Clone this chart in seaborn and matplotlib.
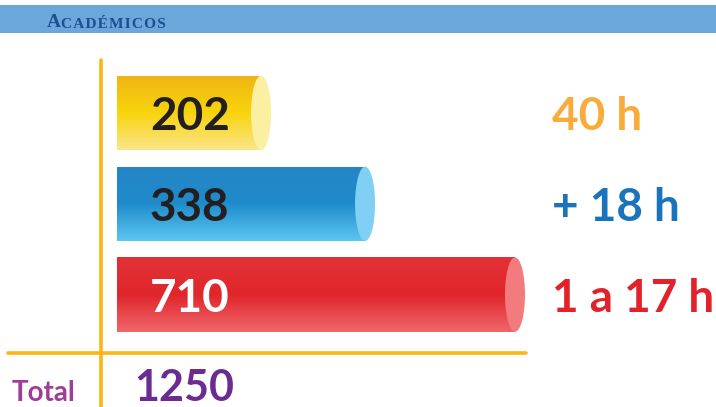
import numpy as np
import pandas as pd
import matplotlib.pyplot as plt
import seaborn as sns
from matplotlib.patches import Ellipse, Rectangle
from matplotlib.lines import Line2D
from matplotlib.colors import LinearSegmentedColormap
from matplotlib.transforms import blended_transform_factory

# datos del gráfico
categories = ["40 h", "+ 18 h", "1 a 17 h"]
values = [202, 338, 710]
total = 1250
total_label = "Total"

# colores (arriba -> abajo) del cuerpo de cada cilindro
body_colors = [
    ["#efb514", "#f8d40c", "#fbe58a"],
    ["#2686c6", "#1f8bcb", "#5dc6f1"],
    ["#e23236", "#e0262b", "#f0676b"],
]
cap_colors = ["#fbf0a2", "#80cff4", "#f27b7d"]
label_colors = ["#f9ab3b", "#1a74bc", "#e2222a"]
value_colors = ["#231f20", "#231f20", "#ffffff"]
gold = "#fbb614"
navy = "#1b4f8f"

sns.set_style("white")
plt.rcParams["font.family"] = ["Lato", "DejaVu Sans"]

W, H = 716, 407
fig = plt.figure(figsize=(W / 100, H / 100), dpi=100)
fig.patch.set_facecolor("white")

# franja de cabecera (versalitas simuladas)
fig.add_artist(Rectangle((0, 1 - 33 / H), 1, 28 / H, transform=fig.transFigure,
                         facecolor="#6ba7da", edgecolor="none"))
t1 = fig.text(47 / W, 1 - 27 / H, "A", fontsize=14, fontweight="bold",
              family=["Liberation Serif"], color=navy, va="baseline")
fig.add_artist(plt.Annotation("C A D É M I C O S".replace(" ", "\u200a"),
                              xy=(1, 0), xycoords=t1, va="bottom", ha="left",
                              fontsize=11, fontweight="bold",
                              family=["Liberation Serif", "DejaVu Serif"],
                              color=navy))

# ejes de las barras
ax = fig.add_axes([117 / W, 1 - 340 / H, 398 / W, 272.4 / H])
df = pd.DataFrame({"grupo": categories, "alumnos": values})
sns.barplot(data=df, x="alumnos", y="grupo", hue="grupo",
            palette=[c[1] for c in body_colors], orient="h", width=0.82,
            legend=False, ax=ax, edgecolor="none")
ax.set_xscale("log")
ax.set_xlim(99, 710)
ax.set_ylim(2.5, -0.5)
ax.axis("off")

grad = np.linspace(0, 1, 256).reshape(-1, 1)
to_ax = ax.transAxes.inverted()
tr = blended_transform_factory(ax.transAxes, ax.transData)
for i, cont in enumerate(ax.containers):
    bar = cont[0]
    y0 = bar.get_y()
    y1 = y0 + bar.get_height()
    yc = y0 + bar.get_height() / 2
    xr, yb = to_ax.transform(ax.transData.transform((bar.get_width(), y1)))
    _, yt = to_ax.transform(ax.transData.transform((bar.get_width(), y0)))
    _, ym = to_ax.transform(ax.transData.transform((bar.get_width(), yc)))
    # degradado vertical recortado a la barra
    cmap = LinearSegmentedColormap.from_list(f"c{i}", body_colors[i])
    im = ax.imshow(grad, cmap=cmap, aspect="auto", origin="upper",
                   extent=(0, xr, yb, yt), transform=ax.transAxes, zorder=2)
    im.set_clip_path(bar)
    # tapa del cilindro
    ax.add_patch(Ellipse((xr, ym), 20 / 398, yt - yb, transform=ax.transAxes,
                         facecolor=cap_colors[i], edgecolor="none",
                         clip_on=False, zorder=3))
    ax.text(33 / 398, yc, str(values[i]), transform=tr, fontsize=33,
            fontweight="bold", color=value_colors[i], va="center_baseline",
            ha="left", zorder=4)
    ax.text(435 / 398, yc, categories[i], transform=tr, fontsize=33,
            fontweight="bold", color=label_colors[i], va="center_baseline",
            ha="left", clip_on=False)

# líneas de referencia
fig.add_artist(Line2D([101 / W, 101 / W], [0, 1 - 60 / H], color=gold, lw=2.6))
fig.add_artist(Line2D([8 / W, 526 / W], [1 - 353 / H, 1 - 353 / H], color=gold, lw=2.6))

# total
fig.text(12 / W, 1 - 401 / H, total_label, fontsize=20, fontweight="bold",
         color="#a23b98", va="baseline")
fig.text(134 / W, 1 - 401 / H, str(total), fontsize=31, fontweight="bold",
         color="#6c2b90", va="baseline")

fig.savefig("out.png", dpi=100)
